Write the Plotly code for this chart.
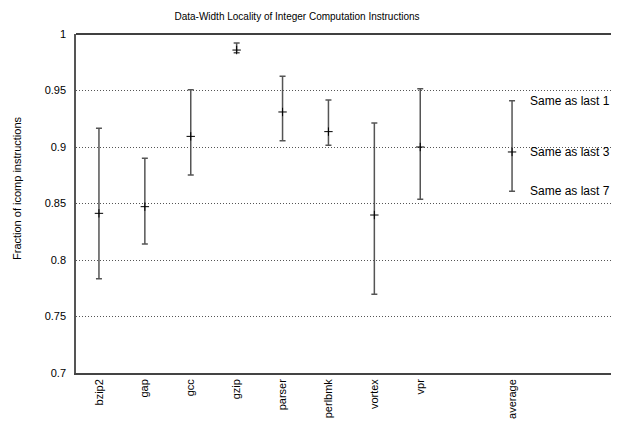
import plotly.graph_objects as go

benchmarks = ["bzip2", "gap", "gcc", "gzip", "parser", "perlbmk", "vortex", "vpr", "average"]
positions = [1, 2, 3, 4, 5, 6, 7, 8, 10]
same_last_1 = [0.9165, 0.890, 0.9507, 0.992, 0.9626, 0.9416, 0.9212, 0.9516, 0.941]
same_last_3 = [0.8413, 0.8472, 0.9094, 0.9858, 0.931, 0.9136, 0.8398, 0.900, 0.8956]
same_last_7 = [0.7835, 0.8142, 0.8752, 0.9835, 0.9056, 0.9015, 0.7696, 0.8537, 0.8608]
label_texts = ["Same as last 1", "Same as last 3", "Same as last 7"]
y_ticks = [0.7, 0.75, 0.8, 0.85, 0.9, 0.95, 1.0]
y_tick_text = ["0.7", "0.75", "0.8", "0.85", "0.9", "0.95", "1"]

FONT = "Liberation Sans, Arial, sans-serif"

# page body has an 8px margin, so figure coords = page coords - 8
W, H = 611, 420
L, T, B = 68, 26, 55

err_plus = [t - m for t, m in zip(same_last_1, same_last_3)]
err_minus = [m - b for m, b in zip(same_last_3, same_last_7)]

fig = go.Figure()
fig.add_trace(go.Scatter(
    x=positions, y=same_last_3, mode="markers",
    marker=dict(symbol="cross-thin", size=6, line=dict(color="black", width=1), color="black"),
    error_y=dict(type="data", symmetric=False, array=err_plus, arrayminus=err_minus,
                 color="#555", thickness=1.5, width=3),
    showlegend=False, hoverinfo="skip",
))

avg = benchmarks.index("average")
for txt, yv in zip(label_texts, [same_last_1[avg], same_last_3[avg], same_last_7[avg]]):
    fig.add_annotation(x=positions[avg] + 0.35, y=yv, text=txt, showarrow=False,
                       xanchor="left", yanchor="middle",
                       font=dict(family=FONT, size=12, color="black"))

# y-axis title placed as in the reference
fig.add_annotation(xref="paper", yref="paper",
                   x=(17 - 8 - L) / (W - L), y=1 - (188 - 8 - T) / (H - T - B),
                   text="Fraction of icomp instructions", textangle=-90, showarrow=False,
                   xanchor="center", yanchor="middle",
                   font=dict(family=FONT, size=11, color="black"))

fig.add_shape(type="line", xref="paper", yref="paper", x0=0, x1=1, y0=1, y1=1,
              line=dict(color="black", width=1.5))

fig.update_layout(
    width=W, height=H,
    margin=dict(l=L, r=0, t=T, b=B),
    paper_bgcolor="white", plot_bgcolor="white",
    font=dict(family=FONT, size=11, color="black"),
    title=dict(text="Data-Width Locality of Integer Computation Instructions",
               x=(297 - 8) / W, xanchor="center", y=1 - (16 - 8) / H, yanchor="middle",
               font=dict(family=FONT, size=10, color="black")),
    xaxis=dict(range=[0.5, 12.33], tickvals=positions, ticktext=benchmarks,
               tickangle=-90, showgrid=False, zeroline=False, showline=True,
               linecolor="#444", linewidth=1.5, ticks="",
               tickfont=dict(family=FONT, size=11, color="black"), automargin=False),
    yaxis=dict(range=[0.7, 1.0], tickvals=y_ticks, ticktext=y_tick_text,
               showgrid=True, gridcolor="#555", griddash="1px,2px", gridwidth=1,
               zeroline=False, showline=True, linecolor="#555", linewidth=1.5,
               ticks="", ticklabelstandoff=6,
               tickfont=dict(family=FONT, size=11, color="black"),
               automargin=False),
)

fig.write_html("out.html")
